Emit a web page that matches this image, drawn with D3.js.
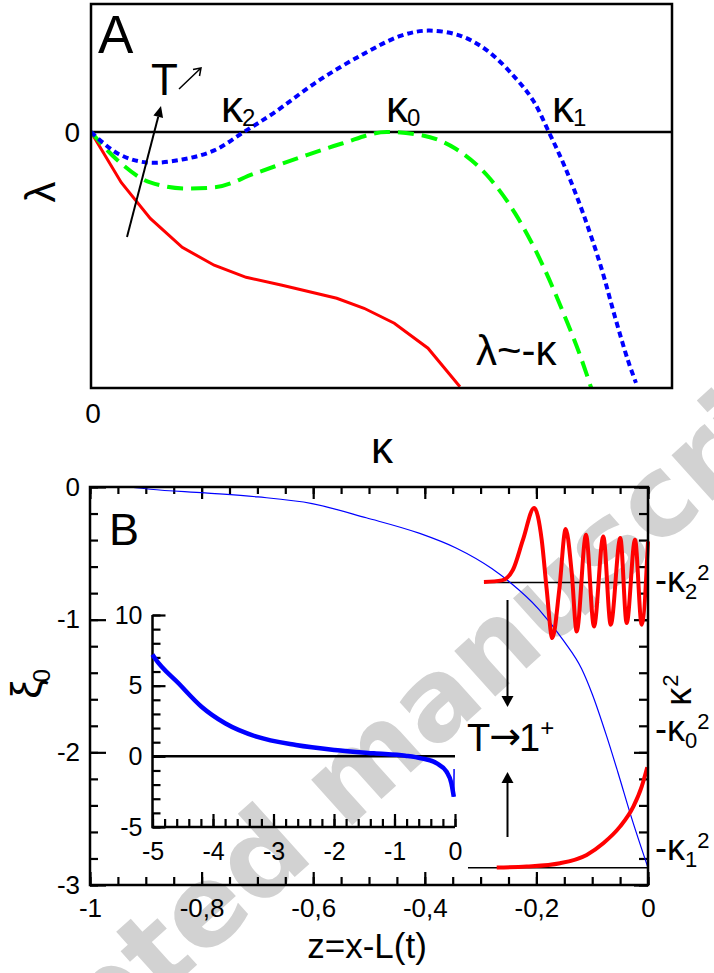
<!DOCTYPE html>
<html>
<head>
<meta charset="utf-8">
<script src="https://cdn.jsdelivr.net/npm/d3@7"></script>
<style>
  body { margin: 0; background: #fff; }
  svg { display: block; }
  text { font-family: "Liberation Sans", Arial, sans-serif; fill: #000; }
</style>
</head>
<body>
<script>
// ---- panel A: growth rate lambda vs kappa (three temperatures)
const kappaBlue = [0, .046, .095, .157, .212, .263, .313, .392, .470, .534, .580, .635, .682, .730, .761, .788, .816, .847, .878, .902, .924, .938];
const lambdaBlue = [0, -.168, -.238, -.215, -.144, 0, .144, .402, .612, .753, .792, .753, .636, .425, .246, 0, -.277, -.636, -1.057, -1.447, -1.782, -1.96];
const kappaGreen = [0, .046, .102, .165, .212, .282, .360, .432, .509, .571, .627, .682, .730, .776, .816, .843, .861];
const lambdaGreen = [0, -.222, -.394, -.441, -.433, -.324, -.198, -.090, 0, -.027, -.129, -.340, -.636, -1.026, -1.447, -1.76, -2.0];
const kappaRed = [0, .052, .102, .157, .212, .267, .329, .423, .470, .522, .580, .635];
const lambdaRed = [0, -.394, -.675, -.901, -1.041, -1.135, -1.197, -1.299, -1.377, -1.494, -1.689, -1.99];

// ---- panel B: xi_0(z) and eigenfunctions
const zXi = [-0.93, -0.892, -0.794, -0.699, -0.602, -0.505, -0.409, -0.344, -0.280, -0.247, -0.196, -0.151, -0.119, -0.100, -0.074, -0.054, -0.029, 0];
const xi = [0, -0.017, -0.045, -0.075, -0.125, -0.232, -0.35, -0.46, -0.615, -0.72, -0.92, -1.16, -1.37, -1.56, -1.88, -2.15, -2.5, -2.87];
const zWave2 = [-0.294, -0.262, -0.242, -0.224, -0.204, -0.1905, -0.1815, -0.1715, -0.159, -0.1475, -0.1367, -0.1278, -0.1111, -0.0968, -0.0801, -0.0668, -0.0496, -0.0382, -0.0233, -0.0113, 0];
const wave2 = [-0.716, -0.704, -0.624, -0.397, -0.158, -0.397, -0.775, -1.139, -0.775, -0.317, -0.646, -1.089, -0.360, -1.051, -0.373, -1.038, -0.385, -1.026, -0.397, -1.038, -0.41];
const zWave1 = [-0.2711, -0.2174, -0.1577, -0.1099, -0.0801, -0.0502, -0.0263, -0.0113, -0.0013];
const wave1 = [-2.869, -2.861, -2.836, -2.773, -2.685, -2.560, -2.409, -2.258, -2.112];
const kappaLevels = [-0.72, -2.87];      // -k2^2, -k1^2
const levelStart = [-0.294, -0.3226];

// ---- inset
const zInset = [-5, -4.96, -4.57, -4.19, -3.80, -3.28, -2.63, -1.99, -1.34, -0.82, -0.56, -0.30, -0.14, -0.06, -0.02];
const vInset = [7.2, 6.94, 5.17, 3.51, 2.34, 1.39, 0.80, 0.45, 0.21, 0.04, -0.14, -0.50, -1.09, -1.91, -2.86];
const zTail = [-0.02, -0.015];
const vTail = [-2.86, -0.9];

const xTicksB = [-1, -0.8, -0.6, -0.4, -0.2, 0];
const yTicksB = [-3, -2, -1, 0];
const xTicksInset = [-5, -4, -3, -2, -1, 0];
const yTicksInset = [-5, 0, 5, 10];

const zip = (a, b) => a.map((v, i) => [v, b[i]]);

const svg = d3.select("body").append("svg")
  .attr("width", 714)
  .attr("height", 973);

// watermark sits under everything
svg.append("text")
  .attr("transform", "translate(378,802) rotate(-42)")
  .attr("text-anchor", "middle")
  .style("font-family", "'DejaVu Sans', sans-serif")
  .style("font-size", "112px")
  .style("font-weight", "bold")
  .style("fill", "#d2d2d2")
  .text("Accepted manuscript");

function arrow(g, x1, y1, x2, y2, len, w) {
  const a = Math.atan2(y2 - y1, x2 - x1);
  const bx = x2 - len * Math.cos(a), by = y2 - len * Math.sin(a);
  g.append("line").attr("x1", x1).attr("y1", y1).attr("x2", bx).attr("y2", by)
    .attr("stroke", "#000").attr("stroke-width", 2);
  const nx = -Math.sin(a) * w / 2, ny = Math.cos(a) * w / 2;
  g.append("path")
    .attr("d", `M${x2},${y2}L${bx + nx},${by + ny}L${bx - nx},${by - ny}Z`)
    .attr("fill", "#000");
}

// ================= panel A =================
const xA = d3.scaleLinear().domain([0, 1]).range([91, 672]);
const yA = d3.scaleLinear().domain([-2, 1]).range([388, 4]);
const gA = svg.append("g");

gA.append("clipPath").attr("id", "clipA")
  .append("rect").attr("x", 91).attr("y", 4).attr("width", 581).attr("height", 384);

gA.append("line")
  .attr("x1", xA(0)).attr("x2", xA(1))
  .attr("y1", yA(0)).attr("y2", yA(0))
  .attr("stroke", "#000").attr("stroke-width", 2.5);

const lineA = d3.line().x(d => xA(d[0])).y(d => yA(d[1]));

gA.append("path").datum(zip(kappaRed, lambdaRed))
  .attr("clip-path", "url(#clipA)")
  .attr("d", lineA.curve(d3.curveLinear))
  .attr("fill", "none").attr("stroke", "#ff0000").attr("stroke-width", 3);

gA.append("path").datum(zip(kappaGreen, lambdaGreen))
  .attr("clip-path", "url(#clipA)")
  .attr("d", lineA.curve(d3.curveMonotoneX))
  .attr("fill", "none").attr("stroke", "#00ff00").attr("stroke-width", 4)
  .attr("stroke-dasharray", "16,8");

gA.append("path").datum(zip(kappaBlue, lambdaBlue))
  .attr("clip-path", "url(#clipA)")
  .attr("d", lineA.curve(d3.curveCatmullRom))
  .attr("fill", "none").attr("stroke", "#0000ff").attr("stroke-width", 4)
  .attr("stroke-dasharray", "6,4");

gA.append("rect")
  .attr("x", 91).attr("y", 4).attr("width", 581).attr("height", 384)
  .attr("fill", "none").attr("stroke", "#000").attr("stroke-width", 2.5);

gA.append("text").attr("x", 98).attr("y", 53).style("font-size", "53px").text("A");

gA.append("text").attr("x", 80).attr("y", yA(0)).attr("dy", "0.36em")
  .attr("text-anchor", "end").style("font-size", "28px").text("0");
gA.append("text").attr("x", xA(0) + 2).attr("y", 423)
  .attr("text-anchor", "middle").style("font-size", "28px").text("0");
gA.append("text").attr("x", 382).attr("y", 463)
  .attr("text-anchor", "middle").style("font-size", "44px").text("κ");
gA.append("text").attr("transform", "translate(55,192) rotate(-90)")
  .attr("text-anchor", "middle").style("font-size", "42px").text("λ");

[["2", 221], ["0", 386], ["1", 552]].forEach(([s, x]) => {
  const t = gA.append("text").attr("x", x).attr("y", 122).style("font-size", "44px");
  t.append("tspan").text("κ");
  t.append("tspan").attr("dx", -1).attr("dy", 4).style("font-size", "24px").text(s);
});

gA.append("text").attr("x", 476).attr("y", 365).style("font-size", "42px").text("λ~-κ");

// T arrow annotation
gA.append("text").attr("x", 151).attr("y", 95).style("font-size", "44px").text("T");
gA.append("path")
  .attr("d", "M179,89L201,68M193,69.5L201,68L199.5,76")
  .attr("fill", "none").attr("stroke", "#000").attr("stroke-width", 1.5);
arrow(gA, 127, 237, 161, 106, 11, 10);

// ================= panel B =================
const xB = d3.scaleLinear().domain([-1, 0]).range([90, 648]);
const yB = d3.scaleLinear().domain([-3, 0]).range([885, 487]);
const gB = svg.append("g");
const fmtB = d => d === 0 ? "0" : (Number.isInteger(d) ? String(d) : d.toFixed(1).replace(".", ","));
const minorX = d3.range(0, 21).map(i => -1 + i * 0.05);
const minorY = d3.range(0, 16).map(i => -3 + i * 0.2);

function styleAxis(g, size) {
  g.select(".domain").remove();
  g.selectAll(".tick line").attr("stroke", "#000").attr("stroke-width", 2.2);
  g.selectAll("text").style("font-size", size + "px")
    .style("font-family", "'Liberation Sans', Arial, sans-serif");
}

gB.append("g").attr("transform", "translate(0,885)")
  .call(d3.axisBottom(xB).tickValues(minorX).tickSize(-8).tickFormat(""))
  .call(g => styleAxis(g, 26));
gB.append("g").attr("transform", "translate(0,885)")
  .call(d3.axisBottom(xB).tickValues(xTicksB).tickSize(-13).tickPadding(14).tickFormat(fmtB))
  .call(g => styleAxis(g, 26));
gB.append("g").attr("transform", "translate(0,487)")
  .call(d3.axisTop(xB).tickValues(minorX).tickSize(-7).tickFormat(""))
  .call(g => styleAxis(g, 26));
gB.append("g").attr("transform", "translate(0,487)")
  .call(d3.axisTop(xB).tickValues(xTicksB).tickSize(-12).tickFormat(""))
  .call(g => styleAxis(g, 26));
gB.append("g").attr("transform", "translate(90,0)")
  .call(d3.axisLeft(yB).tickValues(minorY).tickSize(-8).tickFormat(""))
  .call(g => styleAxis(g, 26));
gB.append("g").attr("transform", "translate(90,0)")
  .call(d3.axisLeft(yB).tickValues(yTicksB).tickSize(-16).tickPadding(10).tickFormat(fmtB))
  .call(g => styleAxis(g, 26));
gB.append("g").attr("transform", "translate(648,0)")
  .call(d3.axisRight(yB).tickValues(minorY).tickSize(-9).tickFormat(""))
  .call(g => styleAxis(g, 26));
gB.append("g").attr("transform", "translate(648,0)")
  .call(d3.axisRight(yB).tickValues(yTicksB).tickSize(-14).tickFormat(""))
  .call(g => styleAxis(g, 26));

// levels -k^2
kappaLevels.forEach((lv, i) => {
  gB.append("line")
    .attr("x1", xB(levelStart[i])).attr("x2", xB(0))
    .attr("y1", yB(lv)).attr("y2", yB(lv))
    .attr("stroke", "#000").attr("stroke-width", 1.3);
});

const lineB = d3.line().x(d => xB(d[0])).y(d => yB(d[1]));

gB.append("path").datum(zip(zXi, xi))
  .attr("d", lineB.curve(d3.curveMonotoneX))
  .attr("fill", "none").attr("stroke", "#0000ff").attr("stroke-width", 1.2);

gB.append("path").datum(zip(zWave2, wave2))
  .attr("d", lineB.curve(d3.curveMonotoneX))
  .attr("fill", "none").attr("stroke", "#ff0000").attr("stroke-width", 4);

gB.append("path").datum(zip(zWave1, wave1))
  .attr("d", lineB.curve(d3.curveMonotoneX))
  .attr("fill", "none").attr("stroke", "#ff0000").attr("stroke-width", 4);

gB.append("rect")
  .attr("x", 90).attr("y", 487).attr("width", 558).attr("height", 398)
  .attr("fill", "none").attr("stroke", "#000").attr("stroke-width", 2.5);

gB.append("text").attr("x", 109).attr("y", 545).style("font-size", "45px").text("B");

// axis titles
gB.append("text").attr("x", 367).attr("y", 958)
  .attr("text-anchor", "middle").style("font-size", "35px").text("z=x-L(t)");
const xiLab = gB.append("text").attr("transform", "translate(41,684) rotate(-90)")
  .attr("text-anchor", "middle").style("font-size", "43px");
xiLab.append("tspan").text("ξ");
xiLab.append("tspan").attr("dx", -3).attr("dy", 9).style("font-size", "24px").text("0");
const k2Lab = gB.append("text").attr("transform", "translate(691,690) rotate(-90)")
  .attr("text-anchor", "middle").style("font-size", "36px");
k2Lab.append("tspan").text("κ");
k2Lab.append("tspan").attr("dx", 1).attr("dy", -13).style("font-size", "22px").text("2");

// right side level labels
[["2", 592], ["0", 741], ["1", 860]].forEach(([s, y]) => {
  const t = gB.append("text").attr("x", 655).attr("y", y).style("font-size", "36px");
  t.append("tspan").text("-κ");
  t.append("tspan").attr("dy", 7).style("font-size", "22px").text(s);
  t.append("tspan").attr("dy", -19).style("font-size", "22px").text("2");
});

// T -> 1+
const tLab = gB.append("text").attr("x", 467).attr("y", 751).style("font-size", "38px");
tLab.append("tspan").text("T");
tLab.append("tspan").attr("dx", -1).attr("dy", -2)
  .style("font-family", "'DejaVu Sans', sans-serif").style("font-size", "38px").text("→");
tLab.append("tspan").attr("dx", -2).attr("dy", 2).text("1");
tLab.append("tspan").attr("dy", -15).style("font-size", "24px").text("+");
arrow(gB, 507.5, 600, 507.5, 707, 11, 12);
arrow(gB, 507.5, 837, 507.5, 772, 11, 12);

// ================= inset =================
const xI = d3.scaleLinear().domain([-5, 0]).range([152.5, 455]);
const yI = d3.scaleLinear().domain([-5, 10]).range([827, 615]);
const gI = svg.append("g");
const minorXI = d3.range(0, 26).map(i => -5 + i * 0.2);
const minorYI = d3.range(0, 16).map(i => -5 + i);

gI.append("g").attr("transform", "translate(0,827)")
  .call(d3.axisBottom(xI).tickValues(minorXI).tickSize(-8).tickFormat(""))
  .call(g => styleAxis(g, 25));
gI.append("g").attr("transform", "translate(0,827)")
  .call(d3.axisBottom(xI).tickValues(xTicksInset).tickSize(-13).tickPadding(15).tickFormat(d => String(d)))
  .call(g => styleAxis(g, 25));
gI.append("g").attr("transform", "translate(152.5,0)")
  .call(d3.axisLeft(yI).tickValues(minorYI).tickSize(-8).tickFormat(""))
  .call(g => styleAxis(g, 25));
gI.append("g").attr("transform", "translate(152.5,0)")
  .call(d3.axisLeft(yI).tickValues(yTicksInset).tickSize(-13).tickPadding(10).tickFormat(d => String(d)))
  .call(g => styleAxis(g, 25));

gI.append("path")
  .attr("d", `M${xI(-5)},${yI(10)}V${yI(-5)}H${xI(0)}`)
  .attr("fill", "none").attr("stroke", "#000").attr("stroke-width", 2.5);
gI.append("line")
  .attr("x1", xI(-5)).attr("x2", xI(0)).attr("y1", yI(0)).attr("y2", yI(0))
  .attr("stroke", "#000").attr("stroke-width", 2.5);

const lineI = d3.line().x(d => xI(d[0])).y(d => yI(d[1])).curve(d3.curveMonotoneX);
gI.append("path").datum(zip(zInset, vInset))
  .attr("d", lineI)
  .attr("fill", "none").attr("stroke", "#0000ff").attr("stroke-width", 4.5);
gI.append("path").datum(zip(zTail, vTail))
  .attr("d", d3.line().x(d => xI(d[0])).y(d => yI(d[1])))
  .attr("fill", "none").attr("stroke", "#0000ff").attr("stroke-width", 1.5);
</script>
</body>
</html>
